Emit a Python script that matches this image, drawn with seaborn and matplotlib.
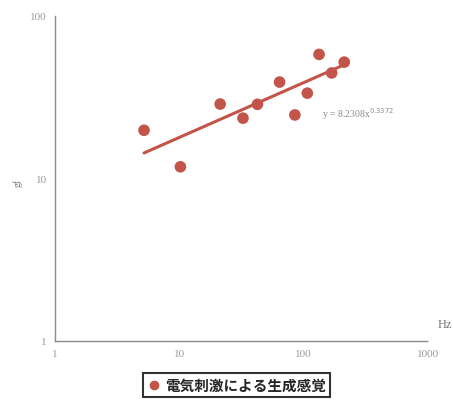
import numpy as np
import pandas as pd
import matplotlib
matplotlib.use("Agg")
import matplotlib.pyplot as plt
import seaborn as sns

# ========== データ ==========
freq_hz = [5.2, 10.2, 21.3, 32.5, 42.5, 64, 85, 107, 133, 168, 212]
value = [19.8, 11.8, 28.7, 23.5, 28.6, 39.2, 24.6, 33.5, 58.0, 44.6, 52.0]
fit_a = 8.2308
fit_b = 0.3372
series_name = "電気刺激による生成感覚"

x_ticks = [1, 10, 100, 1000]
x_ticklabels = ["1", "10", "100", "1000"]
y_ticks = [1, 10, 100]
y_ticklabels = ["1", "10", "100"]

color = "#c25449"

# ========== 描画 ==========
sns.set_style("white")
plt.rcParams['font.family'] = ['Noto Sans CJK JP', 'DejaVu Sans']

df = pd.DataFrame({"Hz": freq_hz, "g": value, "s": series_name})
xs = np.linspace(min(freq_hz), max(freq_hz), 100)
fit_df = pd.DataFrame({"Hz": xs, "g": fit_a * xs ** fit_b})

fig = plt.figure(figsize=(4.53, 4.02), dpi=100)
ax = fig.add_axes([0.1214, 0.1493, 0.8234, 0.8085])

sns.lineplot(data=fit_df, x="Hz", y="g", ax=ax, color=color, linewidth=2.2, legend=False)
sns.scatterplot(data=df, x="Hz", y="g", hue="s", palette=[color], s=70,
                edgecolor="none", ax=ax, legend=False, zorder=3)

ax.set_xscale("log")
ax.set_yscale("log")
ax.set_xlim(1, 1000)
ax.set_ylim(1, 100)
ax.set_xticks(x_ticks)
ax.set_xticklabels(x_ticklabels)
ax.set_yticks(y_ticks)
ax.set_yticklabels(y_ticklabels)
ax.minorticks_off()
ax.set_xlabel("")
ax.set_ylabel("")

for side in ["top", "right"]:
    ax.spines[side].set_visible(False)
for side in ["left", "bottom"]:
    ax.spines[side].set_color("#8a8f88")
    ax.spines[side].set_linewidth(1.0)
    ax.spines[side].set_linestyle((0, (2, 0.8)))

ax.tick_params(axis="both", length=3, width=0.8, color="#555555",
               labelcolor="#9a9a9a", labelsize=8, direction="in", pad=6)
for lab in ax.get_xticklabels() + ax.get_yticklabels():
    lab.set_family("Liberation Serif")

# 軸ラベル
fig.text(0.966, 0.185, "Hz", fontsize=9, color="#777777", family="Liberation Serif")
fig.text(0.04, 0.545, "gf", fontsize=7, color="#777777", rotation=90,
         family="Liberation Serif", ha="center", va="center")

# 近似式
ax.text(0.716, 0.69, r"y = 8.2308x$^{0.3372}$", transform=ax.transAxes,
        fontsize=7, color="#8a8a8a", family="Liberation Serif")

# 凡例
handle = plt.Line2D([], [], marker="o", linestyle="none", color=color, markersize=6)
leg = fig.legend([handle], [series_name], loc="center", bbox_to_anchor=(0.522, 0.04),
                 frameon=True, fancybox=False, fontsize=10.5, handletextpad=0.3,
                 borderpad=0.25, handlelength=1.0, borderaxespad=0)
leg.get_frame().set_edgecolor("black")
leg.get_frame().set_linewidth(1.5)
for t in leg.get_texts():
    t.set_fontweight("bold")

fig.savefig("out.png", dpi=100)
